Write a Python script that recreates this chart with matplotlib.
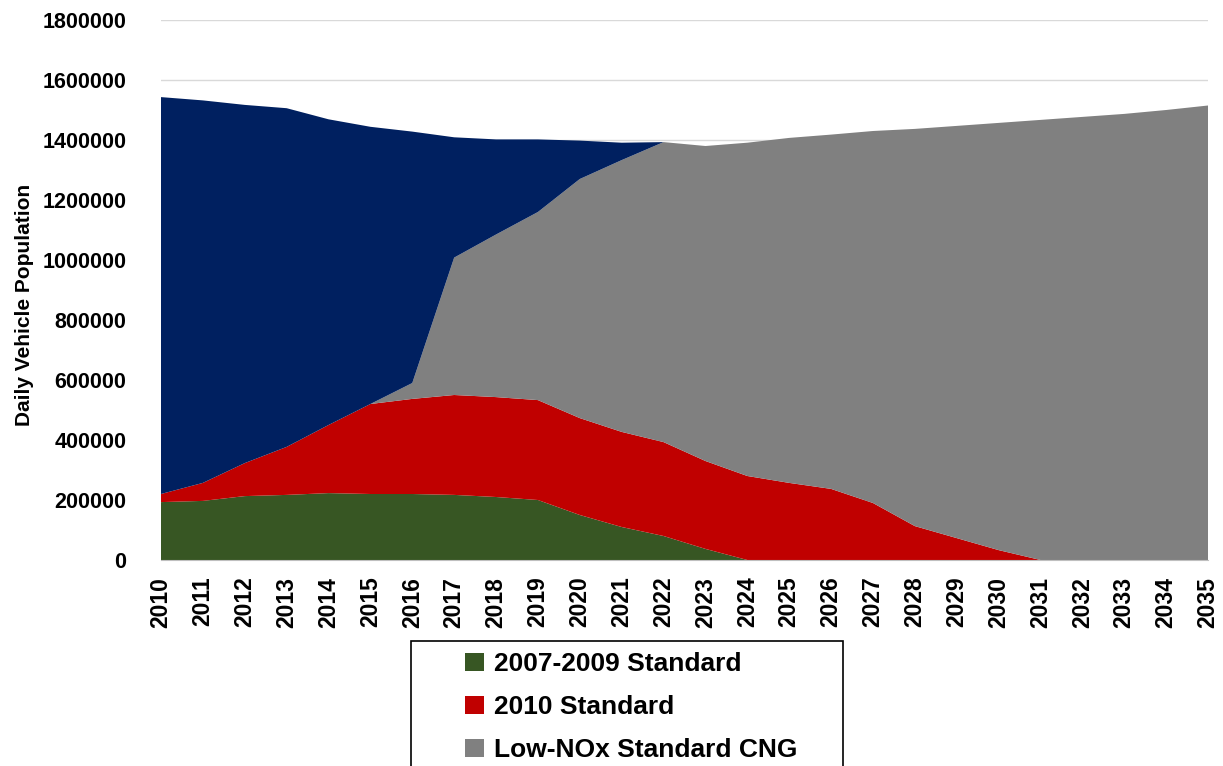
import matplotlib
matplotlib.use("Agg")
import matplotlib.pyplot as plt
from matplotlib.patches import Rectangle, Patch
from matplotlib.ticker import FuncFormatter
import numpy as np

years = list(range(2010, 2036))

total = [1543000, 1532000, 1517000, 1506000, 1469000, 1444000, 1428000, 1409000,
         1402000, 1402000, 1398000, 1391000, 1393000, 1380000, 1391000, 1407000,
         1418000, 1430000, 1437000, 1447000, 1457000, 1467000, 1477000, 1487000,
         1500000, 1515000]
green = [193000, 197000, 213000, 217000, 223000, 220000, 220000, 217000, 210000,
         200000, 150000, 110000, 80000, 37000, 0, 0, 0, 0, 0, 0, 0, 0, 0, 0, 0, 0]
red_top = [220000, 257000, 323000, 377000, 450000, 520000, 537000, 550000, 543000,
           533000, 473000, 427000, 393000, 330000, 280000, 257000, 237000, 190000,
           113000, 73000, 33000, 0, 0, 0, 0, 0]
gray_top = [220000, 257000, 323000, 377000, 450000, 520000, 590000, 1008000,
            1085000, 1160000, 1270000, 1333000, 1393000, 1380000, 1391000, 1407000,
            1418000, 1430000, 1437000, 1447000, 1457000, 1467000, 1477000, 1487000,
            1500000, 1515000]

labels = ["2007-2009 Standard", "2010 Standard", "Low-NOx Standard CNG"]
colors = ["#375623", "#C00000", "#808080", "#002060"]

g = np.array(green, dtype=float)
r = np.array(red_top, dtype=float) - g
gr = np.array(gray_top, dtype=float) - np.array(red_top, dtype=float)
b = np.array(total, dtype=float) - np.array(gray_top, dtype=float)

plt.rcParams['font.family'] = ['Liberation Sans', 'DejaVu Sans']

fig = plt.figure(figsize=(12.23, 7.66), dpi=100)
ax = fig.add_axes([161/1223, 1-560/766, (1208-161)/1223, 540/766])

ax.stackplot(years, g, r, gr, b, colors=colors, linewidth=0, zorder=2)

ax.set_xlim(2010, 2035)
ax.set_ylim(0, 1800000)
ax.set_yticks(np.arange(0, 1800001, 200000))
ax.yaxis.set_major_formatter(FuncFormatter(lambda v, p: f"{int(round(v))}"))
ax.set_xticks(years)
ax.set_xticklabels([str(y) for y in years], rotation=90, fontweight='bold', fontsize=16.5)
for lab in ax.get_yticklabels():
    lab.set_fontweight('bold')
    lab.set_fontsize(15.5)
ax.tick_params(axis='both', length=0)
ax.tick_params(axis='y', pad=25)
ax.tick_params(axis='x', pad=12)
ax.grid(axis='y', color='#D9D9D9', linewidth=1, zorder=0)
ax.set_axisbelow(True)
for s in ['top', 'right', 'left']:
    ax.spines[s].set_visible(False)
ax.spines['bottom'].set_color('#BFBFBF')
ax.spines['bottom'].set_zorder(3)
ax.set_ylabel("Daily Vehicle Population", fontweight='bold', fontsize=15)
ax.yaxis.set_label_coords(-(161-34)/1047, (560-305)/540)

handles = [Patch(facecolor=colors[i], edgecolor='none') for i in range(3)]
leg = fig.legend(handles, labels, loc='upper left',
                 bbox_to_anchor=(447/1223, 1-634/766), frameon=False,
                 prop={'weight': 'bold', 'size': 19},
                 handlelength=0.7, handleheight=0.7, handletextpad=0.4,
                 labelspacing=0.72, borderpad=0.2)
fig.patches.append(Rectangle((411/1223, -0.01), (843-411)/1223, (1-641/766)+0.01,
                             transform=fig.transFigure, fill=False,
                             edgecolor='black', linewidth=1.2))

fig.savefig("out.png", dpi=100)
